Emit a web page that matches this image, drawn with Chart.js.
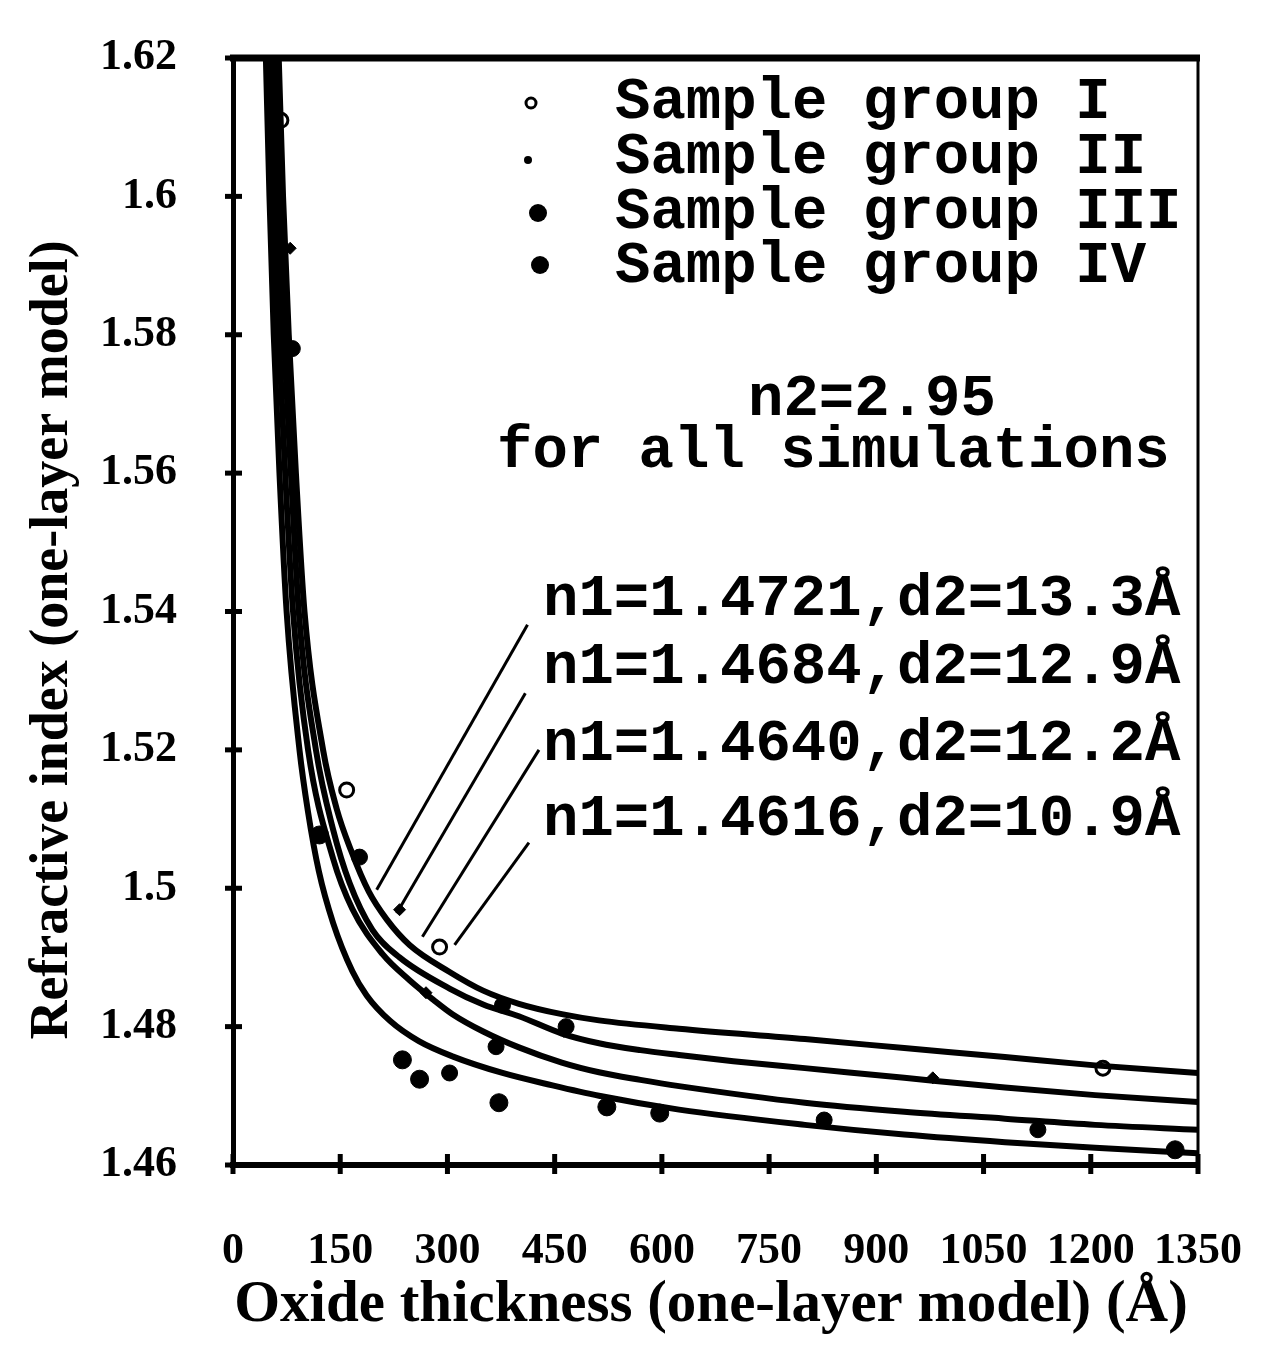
<!DOCTYPE html>
<html>
<head>
<meta charset="utf-8">
<script src="https://cdn.jsdelivr.net/npm/chart.js@4.4.1/dist/chart.umd.min.js"></script>
<style>
  html, body { margin: 0; padding: 0; background: #fff; }
</style>
</head>
<body>
<canvas id="chart" width="1261" height="1346"></canvas>
<script>
// axis ticks
const xTicks = [0, 150, 300, 450, 600, 750, 900, 1050, 1200, 1350];
const yTicks = [1.46, 1.48, 1.5, 1.52, 1.54, 1.56, 1.58, 1.6, 1.62];

// measured samples (thickness in Å, refractive index)
const groupIX = [67, 159, 289, 1217];
const groupIY = [1.611, 1.5142, 1.4915, 1.4740];
const groupIIX = [80, 233, 270, 463, 979];
const groupIIY = [1.5925, 1.4969, 1.4849, 1.4793, 1.4726];
const groupIIIX = [83, 177, 303, 368, 377, 466, 827, 1126];
const groupIIIY = [1.578, 1.5045, 1.4733, 1.4771, 1.4831, 1.4800, 1.4665, 1.4651];
const groupIVX = [121, 237, 261, 372, 523, 597, 1318];
const groupIVY = [1.5077, 1.4752, 1.4724, 1.4690, 1.4684, 1.4675, 1.4622];

// simulated curves
const fitLabels = ['n1=1.4721,d2=13.3\u00c5', 'n1=1.4684,d2=12.9\u00c5', 'n1=1.4640,d2=12.2\u00c5', 'n1=1.4616,d2=10.9\u00c5'];
const fitAX = [64, 70, 78, 88, 100, 126, 145, 165, 190, 215, 247, 303, 350, 400, 460, 512, 624, 800, 939, 1080, 1206, 1350];
const fitAY = [1.62, 1.60, 1.58, 1.56, 1.54, 1.52, 1.5115, 1.5055, 1.4995, 1.4955, 1.4918, 1.4879, 1.4852, 1.4833, 1.4818, 1.4809, 1.4797, 1.4782, 1.4769, 1.4756, 1.4744, 1.4733];
const fitBX = [57, 63, 71, 81, 92, 116, 140, 163, 195, 233, 303, 350, 400, 460, 512, 570, 624, 700, 800, 939, 1080, 1206, 1350];
const fitBY = [1.62, 1.60, 1.58, 1.56, 1.54, 1.52, 1.5085, 1.5008, 1.4940, 1.4900, 1.4855, 1.4832, 1.4815, 1.4790, 1.4776, 1.4766, 1.4759, 1.4750, 1.4740, 1.4726, 1.4712, 1.4701, 1.4691];
const fitCX = [52, 57, 64, 73, 84, 105, 140, 167, 209, 247, 280, 307, 350, 400, 460, 512, 570, 624, 800, 939, 1080, 1206, 1350];
const fitCY = [1.62, 1.60, 1.58, 1.56, 1.54, 1.52, 1.5043, 1.4970, 1.4905, 1.4867, 1.4839, 1.4818, 1.4793, 1.4770, 1.4748, 1.4734, 1.4723, 1.4714, 1.4690, 1.4677, 1.4667, 1.4658, 1.4651];
const fitDX = [46, 51, 57, 65, 75, 93, 105, 120, 140, 167, 187, 220, 260, 307, 377, 447, 512, 624, 800, 939, 1080, 1206, 1350];
const fitDY = [1.62, 1.60, 1.58, 1.56, 1.54, 1.52, 1.511, 1.5025, 1.4950, 1.4880, 1.4845, 1.4808, 1.4779, 1.4757, 1.4733, 1.4715, 1.4700, 1.4680, 1.4658, 1.4644, 1.4633, 1.4625, 1.4617];

// leader lines from the curve labels to the curves
const leaderFromX = [412, 409, 428, 414];
const leaderFromY = [1.5381, 1.5282, 1.5200, 1.5066];
const leaderToX = [201, 229, 265, 310];
const leaderToY = [1.4998, 1.4964, 1.4930, 1.4918];

const legendLabels = ['Sample group I', 'Sample group II', 'Sample group III', 'Sample group IV'];

function pts(xs, ys) {
  return xs.map((x, i) => ({ x: x, y: ys[i] }));
}

function curve(label, xs, ys) {
  return {
    label: label,
    data: pts(xs, ys),
    showLine: true,
    borderColor: '#000',
    borderWidth: 6,
    pointRadius: 0,
    cubicInterpolationMode: 'monotone'
  };
}

const leaders = leaderFromX.map((x, i) => ({
  label: 'leader ' + (i + 1),
  data: [{ x: x, y: leaderFromY[i] }, { x: leaderToX[i], y: leaderToY[i] }],
  showLine: true,
  borderColor: '#000',
  borderWidth: 3,
  pointRadius: 0
}));

const mono = 'bold 59px "Liberation Mono", "DejaVu Sans Mono", monospace';
const serif = '"Liberation Serif", "DejaVu Serif", serif';

// frame, tick marks, titles, legend and notes
const decor = {
  id: 'decor',
  afterDraw(chart) {
    const { ctx, chartArea: a, scales: { x, y } } = chart;
    const line = (x1, y1, x2, y2) => { ctx.beginPath(); ctx.moveTo(x1, y1); ctx.lineTo(x2, y2); ctx.stroke(); };
    ctx.save();
    ctx.strokeStyle = '#000';
    ctx.fillStyle = '#000';

    ctx.lineWidth = 7;
    line(a.left - 3, a.top, a.right + 2, a.top);
    ctx.lineWidth = 3;
    line(a.right, a.top, a.right, a.bottom);

    ctx.lineWidth = 5;
    yTicks.forEach(v => { const py = y.getPixelForValue(v); line(a.left - 8, py, a.left + 9, py); });
    xTicks.forEach(v => { const px = x.getPixelForValue(v); line(px, a.bottom - 11, px, a.bottom + 9); });

    // axis titles
    ctx.textAlign = 'center';
    ctx.textBaseline = 'middle';
    ctx.font = 'bold 59px ' + serif;
    ctx.fillText('Oxide thickness (one-layer model) (\u00c5)', 711, 1306);
    ctx.save();
    ctx.translate(53, 640);
    ctx.rotate(-Math.PI / 2);
    ctx.font = 'bold 54px ' + serif;
    ctx.fillText('Refractive index (one-layer model)', 0, 0);
    ctx.restore();

    // legend
    ctx.font = mono;
    ctx.textAlign = 'left';
    const rows = [103, 158, 213, 267];
    legendLabels.forEach((t, i) => ctx.fillText(t, 615, rows[i]));
    ctx.lineWidth = 3;
    ctx.beginPath(); ctx.arc(531, rows[0], 5, 0, Math.PI * 2); ctx.stroke();
    ctx.beginPath(); ctx.arc(528, rows[1] + 2, 4, 0, Math.PI * 2); ctx.fill();
    ctx.beginPath(); ctx.arc(538, rows[2], 9, 0, Math.PI * 2); ctx.fill();
    ctx.beginPath(); ctx.arc(540, rows[3] - 2, 9, 0, Math.PI * 2); ctx.fill();

    // notes
    ctx.fillText('n2=2.95', 748, 400);
    ctx.fillText('for all simulations', 497, 452);
    const noteRows = [600, 668, 745, 820];
    fitLabels.forEach((t, i) => ctx.fillText(t, 543, noteRows[i]));
    ctx.restore();
  }
};

new Chart(document.getElementById('chart'), {
  type: 'scatter',
  data: {
    datasets: [
      curve(fitLabels[0], fitAX, fitAY),
      curve(fitLabels[1], fitBX, fitBY),
      curve(fitLabels[2], fitCX, fitCY),
      curve(fitLabels[3], fitDX, fitDY),
      ...leaders,
      { label: legendLabels[0], data: pts(groupIX, groupIY), pointStyle: 'circle', pointRadius: 7,
        pointBorderWidth: 3, pointBorderColor: '#000', pointBackgroundColor: '#fff' },
      { label: legendLabels[1], data: pts(groupIIX, groupIIY), pointStyle: 'rectRot', pointRadius: 6,
        pointBorderWidth: 1, pointBorderColor: '#000', pointBackgroundColor: '#000' },
      { label: legendLabels[2], data: pts(groupIIIX, groupIIIY), pointStyle: 'circle', pointRadius: 8,
        pointBorderWidth: 1, pointBorderColor: '#000', pointBackgroundColor: '#000' },
      { label: legendLabels[3], data: pts(groupIVX, groupIVY), pointStyle: 'circle', pointRadius: 9,
        pointBorderWidth: 1, pointBorderColor: '#000', pointBackgroundColor: '#000' }
    ]
  },
  options: {
    responsive: false,
    animation: false,
    layout: { padding: { left: 0, top: 58, right: 63, bottom: 0 } },
    plugins: {
      legend: { display: false },
      tooltip: { enabled: false }
    },
    scales: {
      x: {
        type: 'linear',
        min: 0,
        max: 1350,
        afterBuildTicks: s => { s.ticks = xTicks.map(v => ({ value: v })); },
        afterFit: s => { s.height = 181; s.paddingLeft = 0; s.paddingRight = 0; },
        grid: { display: false },
        border: { display: true, color: '#000', width: 6 },
        ticks: {
          color: '#000',
          padding: 52,
          maxRotation: 0,
          autoSkip: false,
          font: { family: serif, weight: 'bold', size: 44 },
          callback: v => String(v)
        }
      },
      y: {
        type: 'linear',
        min: 1.46,
        max: 1.62,
        afterBuildTicks: s => { s.ticks = yTicks.map(v => ({ value: v })); },
        afterFit: s => { s.width = 233; s.paddingTop = 0; s.paddingBottom = 0; },
        grid: { display: false },
        border: { display: true, color: '#000', width: 5 },
        ticks: {
          color: '#000',
          padding: 48,
          font: { family: serif, weight: 'bold', size: 44 },
          callback: v => String(Math.round(v * 100) / 100)
        }
      }
    }
  },
  plugins: [decor]
});
</script>
</body>
</html>
